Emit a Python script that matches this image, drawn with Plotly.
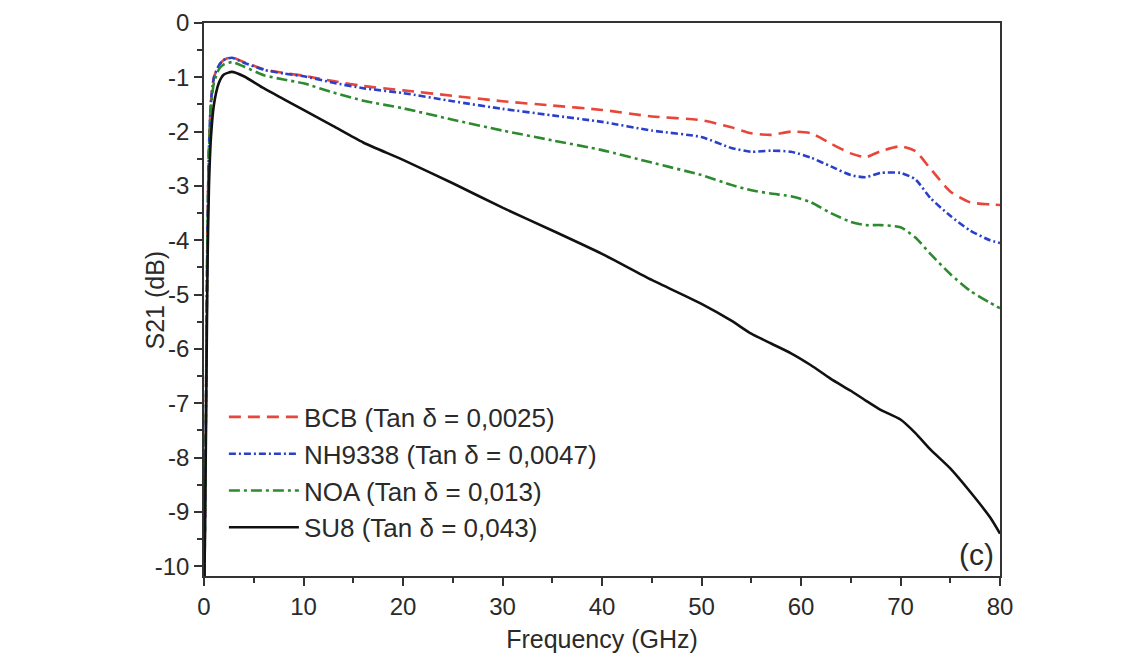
import plotly.graph_objects as go

# Frequency grid (GHz)
freq = [0.05, 0.2, 0.35, 0.5, 0.7, 1.0, 1.5, 2.0, 2.8, 4, 6, 8, 10, 13, 16, 20, 25, 30,
        35, 40, 45, 50, 53, 55, 57, 59, 61, 63, 65, 66.5, 68, 70, 71.5, 73, 75, 77, 79, 80]

bcb = [-10.2, -7.0, -3.8, -2.3, -1.45, -1.0, -0.78, -0.68, -0.63, -0.72, -0.85, -0.92, -0.97,
       -1.07, -1.16, -1.24, -1.34, -1.44, -1.52, -1.6, -1.72, -1.79, -1.92, -2.03, -2.06, -2.0,
       -2.03, -2.22, -2.4, -2.47, -2.36, -2.27, -2.36, -2.68, -3.1, -3.3, -3.34, -3.35]

nh9338 = [-10.2, -7.0, -3.8, -2.3, -1.45, -1.0, -0.78, -0.68, -0.64, -0.73, -0.86, -0.93, -0.98,
          -1.1, -1.2, -1.29, -1.44, -1.58, -1.7, -1.82, -1.98, -2.1, -2.3, -2.37, -2.35, -2.37,
          -2.48, -2.64, -2.8, -2.84, -2.76, -2.76, -2.88, -3.22, -3.55, -3.82, -4.0, -4.05]

noa = [-10.2, -7.0, -3.9, -2.4, -1.55, -1.1, -0.85, -0.76, -0.72, -0.8, -0.96, -1.04, -1.11,
       -1.28, -1.43, -1.57, -1.78, -1.98, -2.16, -2.34, -2.57, -2.8, -2.98, -3.08, -3.14, -3.19,
       -3.3, -3.5, -3.66, -3.72, -3.72, -3.76, -3.95, -4.25, -4.62, -4.93, -5.15, -5.25]

su8 = [-10.2, -7.5, -4.5, -3.0, -2.1, -1.5, -1.1, -0.95, -0.9, -0.98, -1.2, -1.4, -1.6,
       -1.9, -2.2, -2.52, -2.95, -3.4, -3.82, -4.25, -4.73, -5.17, -5.48, -5.72, -5.9, -6.08,
       -6.3, -6.55, -6.77, -6.95, -7.12, -7.3, -7.55, -7.85, -8.2, -8.63, -9.1, -9.4]

names = ["BCB (Tan δ = 0,0025)", "NH9338 (Tan δ = 0,0047)",
         "NOA (Tan δ = 0,013)", "SU8 (Tan δ = 0,043)"]

y_tickvals = [0, -1, -2, -3, -4, -5, -6, -7, -8, -9, -10]
y_ticktext = ["0", "-1", "-2", "-3", "-4", "-5", "-6", "-7", "-8", "-9", "-10"]
y_minor = [-0.5, -1.5, -2.5, -3.5, -4.5, -5.5, -6.5, -7.5, -8.5, -9.5]

font_family = "Liberation Sans, Arial, sans-serif"
txt = "#2a2a2a"

fig = go.Figure()
styles = [
    dict(color="#e8463a", dash="12px,7px"),
    dict(color="#2a40c8", dash="7px,3px,2px,3px"),
    dict(color="#2e8a2e", dash="11px,4px,3px,4px"),
    dict(color="#111111", dash="solid"),
]
for name, ys, st in zip(names, [bcb, nh9338, noa, su8], styles):
    fig.add_trace(go.Scatter(
        x=freq, y=ys, mode="lines", name=name,
        line=dict(color=st["color"], dash=st["dash"], width=2.6, shape="spline", smoothing=0.6),
    ))

axis_common = dict(
    showline=True, linecolor="#333333", linewidth=1.6, mirror=True, automargin=False,
    showgrid=False, zeroline=False, ticks="outside", ticklen=8, tickwidth=1.5,
    tickcolor="#333333",
    tickfont=dict(family=font_family, size=24, color=txt),
)

fig.update_xaxes(
    range=[0, 80], tickmode="linear", tick0=0, dtick=10,
    minor=dict(ticks="outside", dtick=5, ticklen=5, tickwidth=1.5, tickcolor="#333333"),
    title=dict(text="Frequency (GHz)", font=dict(family=font_family, size=25, color=txt), standoff=12),
    **axis_common,
)
fig.update_yaxes(
    range=[-10.18, 0], tickmode="array", tickvals=y_tickvals, ticktext=y_ticktext,
    minor=dict(ticks="outside", tickmode="array", tickvals=y_minor, ticklen=5, tickwidth=1.5,
               tickcolor="#333333"),
    **axis_common,
)

fig.add_annotation(
    x=-0.0616, y=0.5, xref="paper", yref="paper", xanchor="center", yanchor="middle",
    text="S21 (dB)", textangle=-90, showarrow=False,
    font=dict(family=font_family, size=25, color=txt),
)
fig.add_annotation(
    x=0.995, y=0.005, xref="paper", yref="paper", xanchor="right", yanchor="bottom",
    text="(c)", showarrow=False, font=dict(family=font_family, size=30, color=txt),
)

fig.update_layout(
    width=1132, height=658,
    margin=dict(l=196, r=140, t=15, b=90, autoexpand=False),
    paper_bgcolor="white", plot_bgcolor="white",
    font=dict(family=font_family, color=txt),
    showlegend=True,
    legend=dict(
        x=0.025, y=0.33, xanchor="left", yanchor="top",
        bgcolor="rgba(0,0,0,0)", borderwidth=0,
        font=dict(family=font_family, size=26, color=txt),
        itemwidth=70,
    ),
)

fig.write_html("out.html")
